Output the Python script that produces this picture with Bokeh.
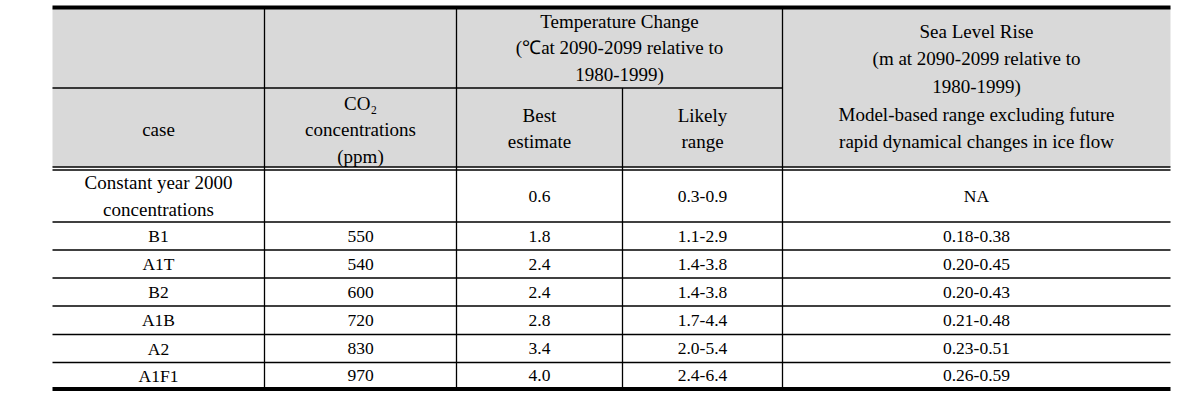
from bokeh.plotting import figure
from bokeh.models import Range1d
from bokeh.core.properties import value
from bokeh.embed import file_html
from bokeh.resources import INLINE

# ---- data ----
cases = ["Constant year 2000\nconcentrations", "B1", "A1T", "B2", "A1B", "A2", "A1F1"]
co2 = ["", "550", "540", "600", "720", "830", "970"]
best = ["0.6", "1.8", "2.4", "2.4", "2.8", "3.4", "4.0"]
likely = ["0.3-0.9", "1.1-2.9", "1.4-3.8", "1.4-3.8", "1.7-4.4", "2.0-5.4", "2.4-6.4"]
slr = ["NA", "0.18-0.38", "0.20-0.45", "0.20-0.43", "0.21-0.48", "0.23-0.51", "0.26-0.59"]

hdr_case = ["case"]
hdr_co2 = ["CO\u2082", "concentrations", "(ppm)"]
hdr_temp = ["Temperature Change", "(\u2103at 2090-2099 relative to", "1980-1999)"]
hdr_best = ["Best", "estimate"]
hdr_likely = ["Likely", "range"]
hdr_sea = ["Sea Level Rise", "(m at 2090-2099 relative to", "1980-1999)",
           "Model-based range excluding future", "rapid dynamical changes in ice flow"]

# ---- layout ----
W, H = 1181, 391
cols = [52, 264, 456, 622, 782, 1170]
top_y = 7
hdr_mid = 87.5
hdr_bot1, hdr_bot2 = 166.5, 169.5
row_edges = [169.5, 221.5, 249.5, 277.5, 305.5, 334, 362, 388.5]
FONT = value("Liberation Serif")
FS_WORD = "19px"
FS_NUM = "17.5px"
LH = 26.5
LW = 1.3

p = figure(width=W, height=H, x_range=Range1d(0, W), y_range=Range1d(H, 0),
           output_backend="svg", toolbar_location=None, min_border=0,
           x_axis_location=None, y_axis_location=None)
p.xgrid.visible = False
p.ygrid.visible = False
p.outline_line_color = None
p.background_fill_color = "white"
p.border_fill_color = "white"

# header gray
p.quad(left=[cols[0]], right=[cols[-1]], top=[top_y], bottom=[hdr_bot1],
       fill_color="#d9d9d9", line_color=None)

# horizontal lines
p.segment(x0=[cols[0]], x1=[cols[-1]], y0=[top_y], y1=[top_y], line_color="black", line_width=4)
p.segment(x0=[cols[0]], x1=[cols[4]], y0=[hdr_mid], y1=[hdr_mid], line_color="black", line_width=LW)
p.segment(x0=[cols[0]] * 2, x1=[cols[-1]] * 2, y0=[hdr_bot1, hdr_bot2], y1=[hdr_bot1, hdr_bot2],
          line_color="black", line_width=LW)
inner = row_edges[1:-1]
p.segment(x0=[cols[0]] * len(inner), x1=[cols[-1]] * len(inner), y0=inner, y1=inner,
          line_color="black", line_width=LW)
p.segment(x0=[cols[0]], x1=[cols[-1]], y0=[row_edges[-1]], y1=[row_edges[-1]],
          line_color="black", line_width=4)

# vertical lines
for i, c in enumerate(cols[1:-1], start=1):
    y0 = hdr_mid if i == 3 else top_y
    p.segment(x0=[c], x1=[c], y0=[y0], y1=[row_edges[-1]], line_color="black", line_width=LW)


def put(lines, xc, centers, fs):
    p.text(x=[xc] * len(lines), y=centers, text=lines, text_align="center",
           text_baseline="middle", text_font=FONT, text_font_size=fs, text_color="black")


def mid(a, b):
    return (a + b) / 2.0


def stack(n, yc):
    return [yc + (k - (n - 1) / 2.0) * LH for k in range(n)]


# headers
put(hdr_case, mid(cols[0], cols[1]), [129], FS_WORD)
put(hdr_co2, mid(cols[1], cols[2]), stack(3, 129), FS_WORD)
put(hdr_temp, mid(cols[2], cols[4]), stack(3, 47), FS_WORD)
put(hdr_best, mid(cols[2], cols[3]), stack(2, 128), FS_WORD)
put(hdr_likely, mid(cols[3], cols[4]), stack(2, 128), FS_WORD)
put(hdr_sea, mid(cols[4], cols[5]), [31, 58, 86, 114, 141], FS_WORD)

# body
for r in range(len(cases)):
    yc = mid(row_edges[r], row_edges[r + 1])
    cl = cases[r].split("\n")
    put(cl, mid(cols[0], cols[1]), stack(len(cl), yc), FS_WORD if len(cl) > 1 else FS_NUM)
    for txt, c0, c1 in ((co2[r], cols[1], cols[2]), (best[r], cols[2], cols[3]),
                        (likely[r], cols[3], cols[4]), (slr[r], cols[4], cols[5])):
        if txt:
            put([txt], mid(c0, c1), [yc], FS_NUM)

open("out.html", "w").write(file_html(p, INLINE))
